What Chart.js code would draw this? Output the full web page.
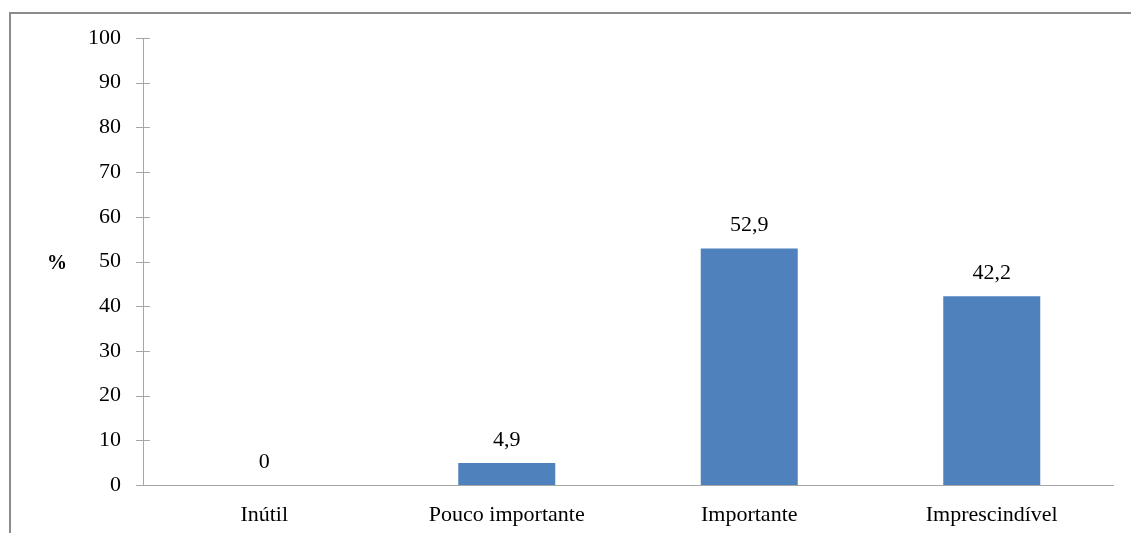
<!DOCTYPE html>
<html>
<head>
<meta charset="utf-8">
<script src="https://cdn.jsdelivr.net/npm/chart.js@4"></script>
<style>
    html, body { margin: 0; padding: 0; background: #fff; }
    #wrap { width: 1131px; height: 533px; position: relative; }
</style>
</head>
<body>
<div id="wrap"><canvas id="grafico"></canvas></div>
<script>
// categorias e valores (%)
var categorias = ["Inútil", "Pouco importante", "Importante", "Imprescindível"];
var valores = [0, 4.9, 52.9, 42.2];
var yTicks = [0, 10, 20, 30, 40, 50, 60, 70, 80, 90, 100];

var fonte = "'Liberation Serif', 'Times New Roman', serif";
var corEixo = "#a6a6a6";

function formatNum(v) {
    return String(v).replace(".", ",");
}

// moldura, marcas do eixo y, rotulos das barras e o "%"
var extras = {
    id: "extras",
    afterDraw: function(chart) {
        var ctx = chart.ctx;
        var area = chart.chartArea;
        var y = chart.scales.y;

        ctx.save();
        // moldura cinza (cortada a direita e em baixo)
        ctx.strokeStyle = "#8c8c8c";
        ctx.lineWidth = 2;
        ctx.strokeRect(10, 13, 1140, 540);

        // marcas do eixo y (atravessam a linha)
        ctx.strokeStyle = corEixo;
        ctx.lineWidth = 1;
        yTicks.forEach(function(t) {
            var py = Math.round(y.getPixelForValue(t)) + 0.5;
            ctx.beginPath();
            ctx.moveTo(area.left - 7, py);
            ctx.lineTo(area.left + 7, py);
            ctx.stroke();
        });
        // linha do eixo x prolongada ate a marca
        var py0 = Math.round(y.getPixelForValue(0)) + 0.5;
        ctx.beginPath();
        ctx.moveTo(area.left - 7, py0);
        ctx.lineTo(area.right, py0);
        ctx.stroke();

        // rotulos de dados
        ctx.fillStyle = "#000";
        ctx.font = "22px " + fonte;
        ctx.textAlign = "center";
        ctx.textBaseline = "bottom";
        var meta = chart.getDatasetMeta(0);
        meta.data.forEach(function(bar, i) {
            ctx.fillText(formatNum(valores[i]), bar.x, bar.y - 12);
        });

        // titulo do eixo y
        ctx.font = "bold 20px " + fonte;
        ctx.textAlign = "center";
        ctx.textBaseline = "middle";
        ctx.fillText("%", 57, (area.top + area.bottom) / 2 + 2);
        ctx.restore();
    }
};

var ctx = document.getElementById("grafico").getContext("2d");
var chart = new Chart(ctx, {
    type: "bar",
    data: {
        labels: categorias,
        datasets: [{
            data: valores,
            backgroundColor: "#4f81bd",
            borderWidth: 0,
            categoryPercentage: 1,
            barPercentage: 0.4
        }]
    },
    options: {
        responsive: true,
        maintainAspectRatio: false,
        animation: false,
        events: [],
        layout: { padding: { top: 38, right: 18, left: 0, bottom: 0 } },
        plugins: {
            legend: { display: false },
            tooltip: { enabled: false }
        },
        scales: {
            x: {
                grid: { display: false, drawTicks: false },
                border: { display: true, color: corEixo, width: 1 },
                ticks: {
                    color: "#000",
                    padding: 17,
                    font: { family: fonte, size: 22 }
                },
                afterFit: function(scale) { scale.height = 48; }
            },
            y: {
                min: 0,
                max: 100,
                afterBuildTicks: function(scale) {
                    scale.ticks = yTicks.map(function(v) { return { value: v }; });
                },
                grid: { display: false, drawTicks: false },
                border: { display: true, color: corEixo, width: 1 },
                ticks: {
                    color: "#000",
                    padding: 22,
                    font: { family: fonte, size: 22 }
                },
                afterFit: function(scale) { scale.width = 143; }
            }
        }
    },
    plugins: [extras]
});
</script>
</body>
</html>
